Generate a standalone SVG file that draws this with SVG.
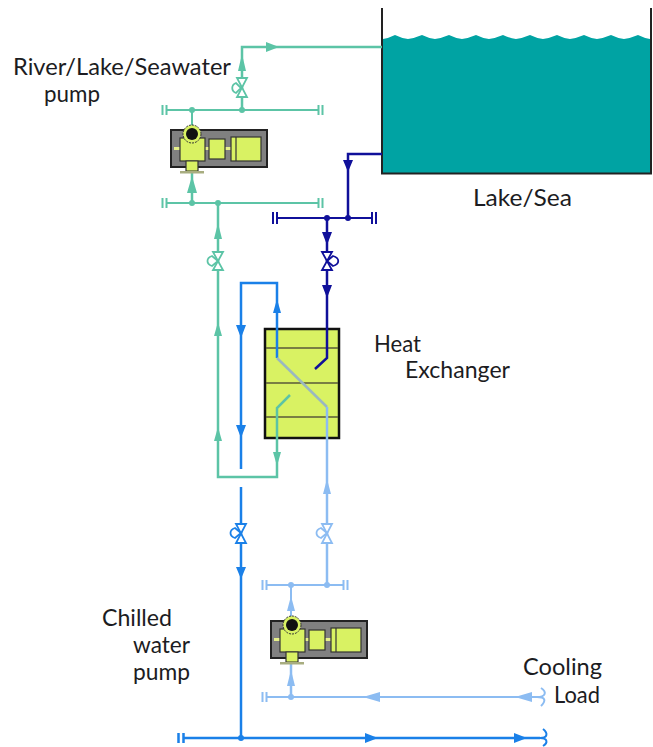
<svg xmlns="http://www.w3.org/2000/svg" width="653" height="747" viewBox="0 0 653 747">
<style>
text{font-family:"Lato","Liberation Sans",sans-serif;font-size:24px;fill:#1c1c22}
.g{stroke:#5cc4a6;fill:none;stroke-width:2.5}.gf{fill:#5cc4a6}
.n{stroke:#10109a;fill:none;stroke-width:2.5}.nf{fill:#10109a}
.b{stroke:#1a80e8;fill:none;stroke-width:2.5}.bf{fill:#1a80e8}
.l{stroke:#8cbcf2;fill:none;stroke-width:2.5}.lf{fill:#8cbcf2}
.v{stroke-width:1.8}
.h{stroke-width:2}
.bx{fill:#d9f263;stroke:#333;stroke-width:1.2}
</style>
<defs>
<g id="pump">
<rect x="0" y="0" width="96" height="37" fill="#808080" stroke="#222" stroke-width="2"/>
<rect x="3" y="17" width="8" height="3" fill="#e6f08a"/>
<rect x="34" y="17" width="5" height="3" fill="#e6f08a"/>
<rect x="54" y="17" width="7" height="3" fill="#e6f08a"/>
<rect x="9" y="8" width="25" height="23" class="bx"/>
<path d="M15 31H27V41H15Z" class="bx"/>
<rect x="9" y="41" width="24" height="2.5" fill="#a8ad80"/>
<rect x="38" y="9" width="16" height="20" class="bx"/>
<rect x="60" y="7" width="30" height="24" class="bx"/>
<path d="M65 7V31" stroke="#333" stroke-width="1.2"/>
<circle cx="21" cy="4" r="9" fill="#d9f263" stroke="#333" stroke-dasharray="2 1"/>
<circle cx="21" cy="4" r="6" fill="#111"/>
</g>
</defs>

<g id="lake">
<path fill="#00a3a3" d="M383 39Q389 38 395 35Q401 38 408 39Q415 38 422 35Q428 38 435 39Q442 38 449 35Q455 38 462 39Q469 38 476 35Q482 38 489 39Q496 38 503 35Q509 38 516 39Q523 38 530 35Q536 38 543 39Q550 38 557 35Q563 38 570 39Q577 38 584 35Q590 38 597 39Q604 38 611 35Q617 38 624 39Q631 38 638 35Q644 38 650 39V173H383Z"/>
<path fill="none" stroke="#222" stroke-width="2" d="M382 8V173.500H651V8"/>
<text x="473" y="206" textLength="99" lengthAdjust="spacingAndGlyphs">Lake/Sea</text>
</g>

<g id="heat-exchanger">
<rect x="265" y="329" width="74" height="109" fill="#d9f263" stroke="#111" stroke-width="2.5"/>
<path d="M266 348H338M266 383H338M266 417H338" stroke="#5a5a3a" stroke-width="1.5" fill="none"/>
<text x="374" y="352" textLength="47" lengthAdjust="spacingAndGlyphs">Heat</text>
<text x="405" y="378" textLength="105" lengthAdjust="spacingAndGlyphs">Exchanger</text>
</g>

<g id="connectors">
<!-- teal -->
<path class="g" d="M242 110V47H382"/>
<path class="g h" d="M167 110H318M162.500 105V115M166.500 105V115M318.500 105V115M322.500 105V115"/>
<path class="g h" d="M192 110V126"/>
<path class="g" d="M192 173V203"/>
<path class="g h" d="M167 203H318M162.500 198V208M166.500 198V208M318.500 198V208M322.500 198V208"/>
<path class="g" d="M218 203V477H277V408L290 395"/>
<!-- navy -->
<path class="n" d="M382 154H348V218"/>
<path class="n h" d="M277 218H372M273 212V224M277 212V224M372 212V224M376 212V224"/>
<path class="n" d="M327 218V358L315 369"/>
<!-- blue -->
<path class="b" d="M241 469V283H277V358"/>
<path class="b" d="M241 487V738"/>
<path class="b" d="M184 738H540M178.500 733V743M183.500 733V743"/>
<path class="b h" d="M540 738C548 738 548 733 543 729M540 738C548 738 548 743 543 746"/>
<!-- diagonal -->
<path stroke="#9ab8c0" fill="none" stroke-width="2.5" d="M277 358L327 407"/>
<!-- light -->
<path class="l" d="M327 407V585"/>
<path class="l h" d="M267 585H343M262.500 580V590M266.500 580V590M343.500 580V590M347.500 580V590"/>
<path class="l h" d="M291 585V617"/>
<path class="l" d="M291 660V697"/>
<path class="l h" d="M267 697H537M262.500 692V702M266.500 692V702"/>
<path class="l h" d="M537 697C546 697 547 692 541 688M537 697C546 697 546 701 541 706"/>
<!-- arrows -->
<path class="gf" d="M279 47L266 42V52Z M242 54L238 71H246Z M192 176L187 193H197Z M218 223L214 239H222Z M218 322L214 336H222Z M218 427L214 441H222Z M277 466L273 452H281Z"/>
<path class="nf" d="M348 172L343 160H353Z M327 245L322 232H332Z M327 298L322 285H332Z"/>
<path class="bf" d="M277 299L273 313H281Z M241 338L236 325H246Z M241 438L236 425H246Z M241 579L236 567H246Z M378 738L365 733V743Z M527 738L514 733V743Z"/>
<path class="lf" d="M327 479L323 494H331Z M291 596L287 611H295Z M291 670L287 686H295Z M363 697L380 692V702Z M515 697L532 692V702Z"/>
</g>

<g id="valve-river" class="g">
<path class="v" fill="#fff" d="M237 78H247L237 97H247Z"/>
<path class="v" d="M241 88L236 83C231 85 231 91 236 93Z"/>
</g>
<g id="valve-return" class="g">
<path class="v" fill="#fff" d="M213 252H223L213 270H223Z"/>
<path class="v" d="M218 261L212 256C206 258 206 264 212 266Z"/>
</g>
<g id="valve-lake" class="n">
<path class="v" fill="#fff" d="M322 252H332L322 270H332Z"/>
<path class="v" d="M327 261L333 256C340 258 340 264 333 266Z"/>
</g>
<g id="valve-chilled" class="b">
<path class="v" fill="#fff" d="M236 524H246L236 543H246Z"/>
<path class="v" d="M241 533L235 528C229 530 229 536 235 538Z"/>
</g>
<g id="valve-load" class="l">
<path class="v" fill="#fff" d="M322 524H332L322 543H332Z"/>
<path class="v" d="M327 533L321 528C315 530 315 536 321 538Z"/>
</g>

<g id="junctions">
<circle class="gf" cx="192" cy="110" r="3"/><circle class="gf" cx="242" cy="110" r="3"/>
<circle class="gf" cx="192" cy="203" r="3"/><circle class="gf" cx="218" cy="203" r="3"/>
<circle class="nf" cx="327" cy="218" r="3"/><circle class="nf" cx="348" cy="218" r="3"/>
<circle class="lf" cx="291" cy="585" r="3"/><circle class="lf" cx="327" cy="585" r="3"/><circle class="lf" cx="291" cy="697" r="3"/>
<circle class="bf" cx="241" cy="738" r="3"/>
</g>

<g id="pump-river"><use href="#pump" transform="translate(171 130)"/>
<text x="13" y="75" textLength="218" lengthAdjust="spacingAndGlyphs">River/Lake/Seawater</text>
<text x="44" y="102" textLength="56" lengthAdjust="spacingAndGlyphs">pump</text></g>

<g id="pump-chilled"><use href="#pump" transform="translate(271 621)"/>
<text x="102" y="626" textLength="70" lengthAdjust="spacingAndGlyphs">Chilled</text>
<text x="133" y="653" textLength="57" lengthAdjust="spacingAndGlyphs">water</text>
<text x="133" y="680" textLength="57" lengthAdjust="spacingAndGlyphs">pump</text></g>

<g id="cooling-load"><text x="523" y="675" textLength="79" lengthAdjust="spacingAndGlyphs">Cooling</text>
<text x="554" y="703" textLength="46" lengthAdjust="spacingAndGlyphs">Load</text></g>
</svg>
